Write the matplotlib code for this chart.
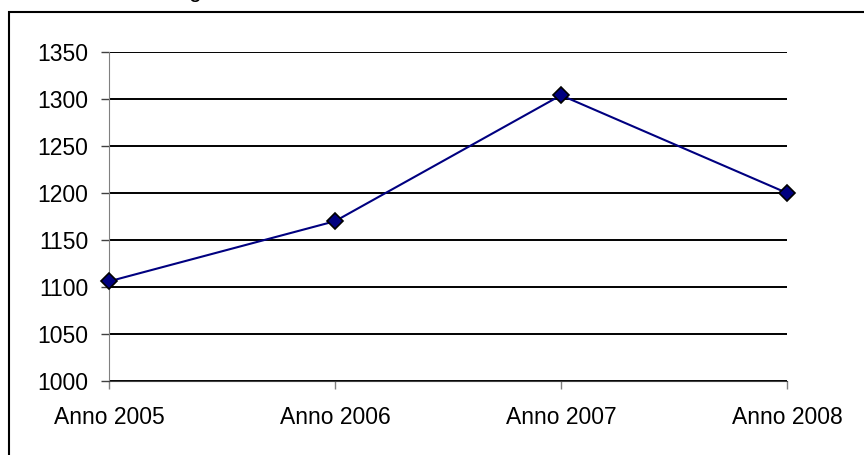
import matplotlib.pyplot as plt
from matplotlib.patches import Rectangle

# Yearly values plotted on a category axis
years = ['Anno 2005', 'Anno 2006', 'Anno 2007', 'Anno 2008']
values = [1106, 1170, 1304, 1200]
y_ticks = [1000, 1050, 1100, 1150, 1200, 1250, 1300, 1350]

plt.rcParams['font.family'] = ['Liberation Sans', 'DejaVu Sans']

fig = plt.figure(figsize=(8.64, 4.55), dpi=100)
ax = fig.add_axes([109 / 864, 1 - 381 / 455, (787 - 109) / 864, (381 - 52) / 455])

# chart area border (runs off the right and bottom edges)
fig.add_artist(Rectangle((8.5 / 864, -0.1), 1.0, 1 - 12 / 455 + 0.1,
                         transform=fig.transFigure, fill=False,
                         edgecolor='black', linewidth=1.5))
# title sits above the top edge, only its descender shows
fig.text(195 / 864, 1 + 3 / 455, 'g', fontsize=16.5, ha='center', va='baseline')

x = list(range(len(years)))
ax.plot(x, values, color='#000080', linewidth=1.5, marker='D', markersize=8.5,
        markerfacecolor='#000080', markeredgecolor='black', markeredgewidth=1.2,
        clip_on=False, zorder=5)

ax.set_xlim(0, len(years) - 1)
ax.set_ylim(1000, 1350)
ax.set_xticks(x)
ax.set_xticklabels(years)
ax.set_yticks(y_ticks)

ax.yaxis.grid(True, color='black', linewidth=1.4)
ax.set_axisbelow(True)
for side in ['top', 'right']:
    ax.spines[side].set_visible(False)
ax.spines['left'].set_color('#808080')
ax.spines['bottom'].set_color('#404040')

ax.tick_params(axis='y', direction='out', length=6, width=1, color='#404040',
               labelsize=16.5, pad=9)
ax.tick_params(axis='x', direction='out', length=6, width=1, color='#808080',
               labelsize=16.5, pad=12)

fig.savefig('out.png', dpi=100)
